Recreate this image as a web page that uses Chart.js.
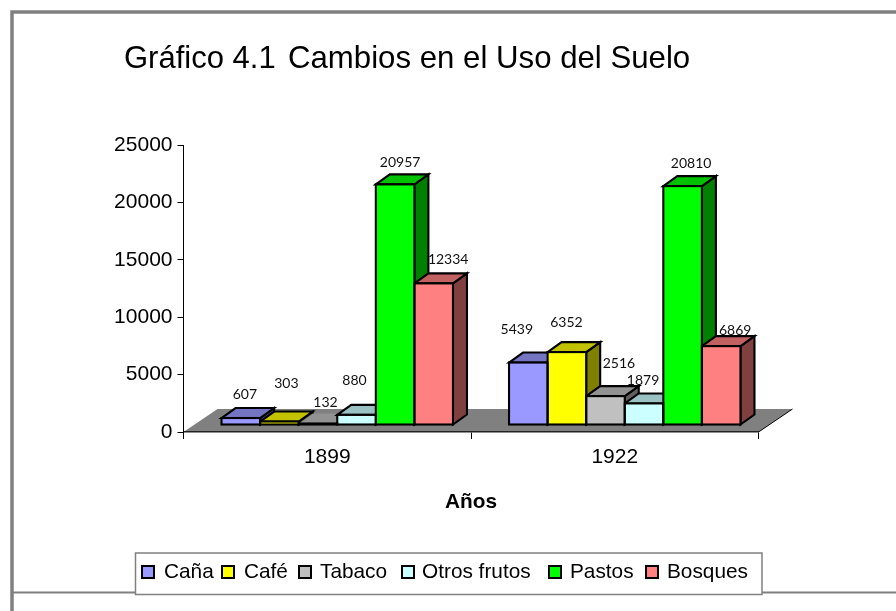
<!DOCTYPE html>
<html><head><meta charset="utf-8">
<style>html,body{margin:0;padding:0;background:#fff;overflow:hidden}canvas{display:block}</style>
<script src="https://cdn.jsdelivr.net/npm/chart.js@4"></script>
</head><body><div style="width:896px;height:611px;position:relative"><canvas id="c" width="896" height="611"></canvas></div>
<script>
const years = ['1899', '1922'];
const seriesNames = ['Caña', 'Café', 'Tabaco', 'Otros frutos', 'Pastos', 'Bosques'];
const cana = [607, 5439];
const cafe = [303, 6352];
const tabaco = [132, 2516];
const otrosFrutos = [880, 1879];
const pastos = [20957, 20810];
const bosques = [12334, 6869];
const seriesColors = [[153,153,255],[255,255,0],[192,192,192],[204,255,255],[0,255,0],[255,128,128]];
const yTicks = [0, 5000, 10000, 15000, 20000, 25000];
const allSeries = [cana, cafe, tabaco, otrosFrutos, pastos, bosques];

// Manual nudges of the value labels relative to each bar's top centre [series][year]
const labelNudge = [
  [[4.5,-24],[-11,-32.6]],
  [[7.5,-38.5],[0,-30]],
  [[8,-21.5],[14,-33]],
  [[-1.5,-34],[-0.5,-23.4]],
  [[5.5,-22.4],[9,-23]],
  [[15,-24.4],[14.5,-16]]
];
const legendBoxX = [142, 222, 299, 402, 549, 646];
const legendTextX = [164, 244, 320, 422, 570, 667];

const FONT = '"Liberation Sans", Arial, sans-serif';
const OFF = {x: 10, y: -7};      // front-face shift from axis plane
const DEPTH = {x: 14, y: -10};   // depth of each bar
const FLOOR = {x: 34, y: -23};   // depth of the floor
const rgb = (c, k) => `rgb(${Math.round(c[0]*k)},${Math.round(c[1]*k)},${Math.round(c[2]*k)})`;

function barBox(bar) {
  const w = bar.width;
  return {l: bar.x - w/2 + OFF.x, r: bar.x + w/2 + OFF.x, t: bar.y + OFF.y, b: bar.base + OFF.y};
}
function poly(ctx, pts, fill, stroke, lw) {
  ctx.beginPath();
  pts.forEach((p, i) => i ? ctx.lineTo(p[0], p[1]) : ctx.moveTo(p[0], p[1]));
  ctx.closePath();
  if (fill) { ctx.fillStyle = fill; ctx.fill(); }
  if (stroke) { ctx.strokeStyle = stroke; ctx.lineWidth = lw; ctx.lineJoin = 'miter'; ctx.stroke(); }
}

const decor = {
  id: 'decor',
  beforeDraw(chart) {
    const ctx = chart.ctx;
    ctx.save();
    ctx.fillStyle = '#fff';
    ctx.fillRect(0, 0, chart.width, chart.height);
    ctx.strokeStyle = '#808080';
    ctx.lineWidth = 3.5;
    ctx.beginPath();
    ctx.moveTo(896, 12); ctx.lineTo(12, 12); ctx.lineTo(12, 611);
    ctx.stroke();
    ctx.lineWidth = 2;
    ctx.beginPath();
    ctx.moveTo(12, 592.5); ctx.lineTo(896, 592.5);
    ctx.stroke();
    // title
    ctx.fillStyle = '#000';
    ctx.textBaseline = 'alphabetic';
    ctx.textAlign = 'left';
    ctx.font = '31px ' + FONT;
    ctx.fillText('Gráfico 4.1', 124, 68);
    ctx.font = '31.2px ' + FONT;
    ctx.fillText('Cambios en el Uso del Suelo', 288, 68);
    ctx.restore();
  },
  beforeDatasetsDraw(chart) {
    const ctx = chart.ctx, a = chart.chartArea;
    ctx.save();
    // floor
    poly(ctx, [[a.left, a.bottom], [a.left + FLOOR.x, a.bottom + FLOOR.y],
               [a.right + FLOOR.x, a.bottom + FLOOR.y], [a.right, a.bottom]], '#808080');
    ctx.strokeStyle = '#000'; ctx.lineWidth = 1;
    ctx.beginPath();
    ctx.moveTo(a.right, a.bottom); ctx.lineTo(a.right + FLOOR.x, a.bottom + FLOOR.y);
    ctx.stroke();
    // depth faces, left to right; very short bars keep only their fill
    chart.data.datasets.forEach((ds, i) => {
      chart.getDatasetMeta(i).data.forEach(bar => {
        const b = barBox(bar), c = seriesColors[i];
        const edge = (b.b - b.t) < 2 ? null : '#000';
        poly(ctx, [[b.r, b.t], [b.r + DEPTH.x, b.t + DEPTH.y], [b.r + DEPTH.x, b.b + DEPTH.y], [b.r, b.b]], rgb(c, .5), edge, 2.1);
        poly(ctx, [[b.l, b.t], [b.l + DEPTH.x, b.t + DEPTH.y], [b.r + DEPTH.x, b.t + DEPTH.y], [b.r, b.t]], rgb(c, .76), edge, 2.1);
      });
    });
    ctx.restore();
  },
  beforeDatasetDraw(chart) {
    chart.ctx.save();
    chart.ctx.translate(OFF.x, OFF.y);
  },
  afterDatasetDraw(chart) {
    chart.ctx.restore();
  },
  afterDatasetsDraw(chart) {
    const ctx = chart.ctx;
    ctx.save();
    chart.data.datasets.forEach((ds, i) => {
      chart.getDatasetMeta(i).data.forEach((bar, j) => {
        const b = barBox(bar);
        ctx.strokeStyle = '#000'; ctx.lineWidth = 2.1;
        ctx.strokeRect(b.l, b.t, b.r - b.l, b.b - b.t);
      });
    });
    // value labels
    ctx.fillStyle = '#111';
    ctx.font = '14px Lato, sans-serif';
    ctx.textAlign = 'center';
    ctx.textBaseline = 'middle';
    chart.data.datasets.forEach((ds, i) => {
      chart.getDatasetMeta(i).data.forEach((bar, j) => {
        const b = barBox(bar), n = labelNudge[i][j];
        ctx.fillText(String(ds.data[j]), (b.l + b.r)/2 + n[0] - 0.5, b.t + n[1]);
      });
    });
    // legend
    ctx.fillStyle = '#fff';
    ctx.fillRect(135.5, 553, 626.5, 41.5);
    ctx.strokeStyle = '#808080'; ctx.lineWidth = 1.5;
    ctx.strokeRect(135.5, 553, 626.5, 41.5);
    ctx.font = '20.8px ' + FONT;
    ctx.textAlign = 'left';
    ctx.textBaseline = 'middle';
    chart.data.datasets.forEach((ds, i) => {
      ctx.fillStyle = ds.backgroundColor;
      ctx.fillRect(legendBoxX[i], 566, 12, 12);
      ctx.strokeStyle = '#000'; ctx.lineWidth = 2;
      ctx.strokeRect(legendBoxX[i], 566, 12, 12);
      ctx.fillStyle = '#000';
      ctx.fillText(ds.label, legendTextX[i], 572);
    });
    ctx.restore();
  }
};

new Chart(document.getElementById('c'), {
  type: 'bar',
  data: {
    labels: years,
    datasets: seriesNames.map((name, i) => ({
      label: name,
      data: allSeries[i],
      backgroundColor: rgb(seriesColors[i], 1),
      borderWidth: 0,
      clip: false,
      categoryPercentage: 0.805,
      barPercentage: 1
    }))
  },
  options: {
    responsive: false,
    animation: false,
    layout: {padding: {top: 145, right: 137.5, left: 0, bottom: 0}},
    plugins: {legend: {display: false}, title: {display: false}, tooltip: {enabled: false}},
    scales: {
      x: {
        grid: {drawOnChartArea: false, tickLength: 7, color: '#000', offset: true},
        border: {color: '#222', width: 1.5, z: 1},
        ticks: {color: '#000', font: {family: FONT, size: 21}, padding: 6, maxRotation: 0},
        title: {display: true, text: 'Años', color: '#000',
                font: {family: FONT, size: 20.8, weight: 'bold'}, padding: {top: 0, bottom: 96}},
        afterFit(s) { s.height = 179; }
      },
      y: {
        min: 0, max: 25000,
        afterBuildTicks(s) { s.ticks = yTicks.map(v => ({value: v})); },
        grid: {drawOnChartArea: false, tickLength: 6, color: '#000'},
        border: {color: '#000', width: 1, z: 1},
        ticks: {color: '#000', font: {family: FONT, size: 21}, padding: 5, callback: v => String(v)},
        afterFit(s) { s.width = 183.5; }
      }
    }
  },
  plugins: [decor]
});
</script></body></html>
